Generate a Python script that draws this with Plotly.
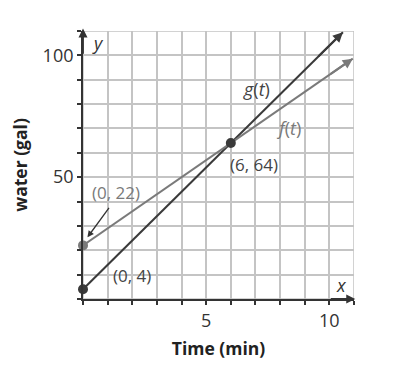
import plotly.graph_objects as go

# Data
t_vals = [0, 6, 10.55]
g_vals = [4, 64, 109.5]          # g(t) = 10t + 4
f_t_vals = [0, 6, 10.95]
f_vals = [22, 64, 98.65]         # f(t) = 7t + 22
points_x = [0, 0, 6]
points_y = [22, 4, 64]
point_colors = ["#7a7a7a", "#3a3a3a", "#3a3a3a"]
x_ticks = list(range(0, 12))
y_ticks = list(range(0, 120, 10))
x_ticklabels = ["" if v not in (5, 10) else str(v) for v in x_ticks]
y_ticklabels = ["" if v not in (50, 100) else str(v) for v in y_ticks]

DARK = "#333333"
GRAY = "#7a7a7a"
GRID = "#c4c4c4"
FONT = "Open Sans"

fig = go.Figure()
fig.add_trace(go.Scatter(x=t_vals, y=g_vals, mode="lines",
                         line=dict(color="#3a3a3a", width=2), hoverinfo="skip"))
fig.add_trace(go.Scatter(x=f_t_vals, y=f_vals, mode="lines",
                         line=dict(color=GRAY, width=2), hoverinfo="skip"))
fig.add_trace(go.Scatter(x=points_x, y=points_y, mode="markers",
                         marker=dict(color=point_colors, size=10), cliponaxis=False,
                         hoverinfo="skip"))

ann = []
# arrowheads on lines
ann.append(dict(x=t_vals[-1], y=g_vals[-1], ax=t_vals[-2] + 3.5, ay=g_vals[-2] + 35,
                xref="x", yref="y", axref="x", ayref="y", showarrow=True,
                arrowhead=2, arrowsize=1, arrowwidth=2, arrowcolor="#3a3a3a", text=""))
ann.append(dict(x=f_t_vals[-1], y=f_vals[-1], ax=f_t_vals[-2] + 4, ay=f_vals[-2] + 28,
                xref="x", yref="y", axref="x", ayref="y", showarrow=True,
                arrowhead=2, arrowsize=1, arrowwidth=2, arrowcolor=GRAY, text=""))
# axis arrows
ann.append(dict(x=0, y=111, ax=0, ay=100, xref="x", yref="y", axref="x", ayref="y",
                showarrow=True, arrowhead=2, arrowsize=1, arrowwidth=1.8,
                arrowcolor=DARK, text=""))
ann.append(dict(x=11.05, y=0, ax=10, ay=0, xref="x", yref="y", axref="x", ayref="y",
                showarrow=True, arrowhead=2, arrowsize=1, arrowwidth=1.8,
                arrowcolor=DARK, text=""))
# pointer arrow from (0,22) label
ann.append(dict(x=0.18, y=25.3, ax=1.1, ay=38, xref="x", yref="y", axref="x", ayref="y",
                showarrow=True, arrowhead=2, arrowsize=1, arrowwidth=1.3,
                arrowcolor=DARK, text=""))

def label(x, y, text, color, size=17):
    ann.append(dict(x=x, y=y, xref="x", yref="y", text=text, showarrow=False,
                    font=dict(family=FONT, size=size, color=color)))

label(7.05, 86.0, "<i>g</i>(<i>t</i>)", "#444444", 18)
label(8.35, 70.3, "<i>f</i>(<i>t</i>)", GRAY, 18)
label(6.93, 55.1, "(6, 64)", "#444444")
label(1.34, 43.8, "(0, 22)", GRAY)
label(1.99, 9.6, "(0, 4)", "#444444")
label(0.6, 105, "<i>y</i>", DARK, 18)
label(10.5, 5.8, "<i>x</i>", DARK, 18)
label(-0.38, -5.8, "0", DARK, 18)

fig.update_layout(
    width=393, height=383,
    margin=dict(l=75, r=47, t=23, b=92),
    paper_bgcolor="white", plot_bgcolor="white",
    showlegend=False,
    annotations=ann,
    font=dict(family=FONT, color=DARK),
    shapes=[dict(type="rect", xref="x", yref="y", x0=0, x1=11, y0=0, y1=110,
                 line=dict(color=GRID, width=1.5), layer="below")],
)
fig.update_xaxes(range=[0, 11], tickvals=x_ticks, ticktext=x_ticklabels,
                 showgrid=True, gridcolor=GRID, gridwidth=1.5, automargin=False,
                 ticks="outside", ticklen=4, tickwidth=1.5, tickcolor=DARK,
                 showline=True, linecolor=DARK, linewidth=1.8, zeroline=False,
                 tickfont=dict(size=18, color=DARK, family=FONT),
                 title=dict(text="<b>Time (min)</b>", standoff=12,
                            font=dict(size=17.5, color="#222222", family=FONT)))
fig.update_yaxes(range=[0, 110], tickvals=y_ticks, ticktext=y_ticklabels,
                 showgrid=True, gridcolor=GRID, gridwidth=1.5, automargin=False,
                 ticks="outside", ticklen=4, tickwidth=1.5, tickcolor=DARK,
                 showline=True, linecolor=DARK, linewidth=1.8, zeroline=False,
                 tickfont=dict(size=18, color=DARK, family=FONT),
                 title=dict(text="<b>water (gal)</b>", standoff=16,
                            font=dict(size=17.5, color="#222222", family=FONT)))

fig.write_html("out.html")
